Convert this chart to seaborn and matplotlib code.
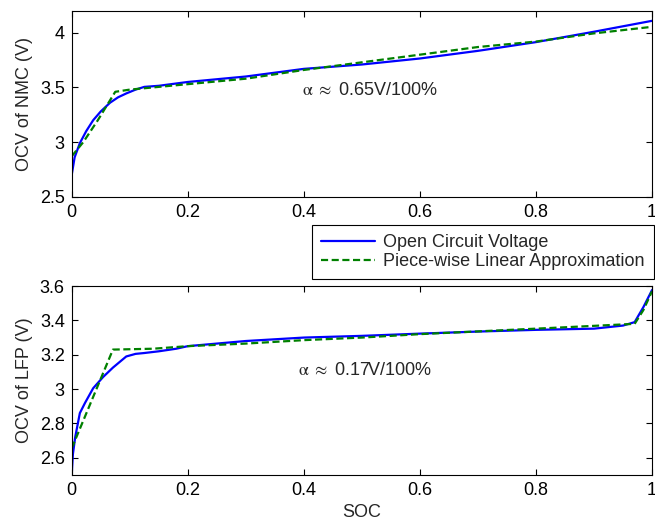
import matplotlib
matplotlib.use("Agg")
import matplotlib.pyplot as plt
import seaborn as sns
import pandas as pd

# NMC open circuit voltage and its piece-wise linear approximation
soc_nmc = [0, 0.005, 0.014, 0.025, 0.037, 0.05, 0.066, 0.08, 0.094, 0.11, 0.125, 0.15,
           0.2, 0.3, 0.4, 0.45, 0.5, 0.6, 0.7, 0.8, 0.9, 1.0]
ocv_nmc = [2.70, 2.86, 2.99, 3.10, 3.20, 3.28, 3.36, 3.41, 3.445, 3.48, 3.505, 3.515,
           3.55, 3.60, 3.67, 3.69, 3.71, 3.765, 3.835, 3.915, 4.01, 4.11]
soc_nmc_pwl = [0, 0.02, 0.045, 0.075, 0.1, 0.2, 0.3, 0.4, 0.5, 0.6, 0.7, 0.8, 0.9, 1.0]
ocv_nmc_pwl = [2.87, 3.0, 3.2, 3.46, 3.48, 3.53, 3.58, 3.66, 3.73, 3.80, 3.87, 3.92, 3.995, 4.055]

# LFP open circuit voltage and its piece-wise linear approximation
soc_lfp = [0, 0.002, 0.006, 0.014, 0.023, 0.037, 0.054, 0.071, 0.094, 0.11, 0.125, 0.15,
           0.18, 0.2, 0.3, 0.4, 0.5, 0.6, 0.7, 0.8, 0.9, 0.95, 0.97, 0.985, 1.0]
ocv_lfp = [2.5, 2.62, 2.72, 2.86, 2.92, 3.005, 3.07, 3.125, 3.19, 3.205, 3.21, 3.22,
           3.235, 3.25, 3.28, 3.30, 3.31, 3.323, 3.335, 3.345, 3.352, 3.37, 3.39, 3.477, 3.577]
soc_lfp_pwl = [0, 0.071, 0.14, 0.2, 0.3, 0.4, 0.5, 0.6, 0.75, 0.85, 0.97, 0.985, 1.0]
ocv_lfp_pwl = [2.655, 3.23, 3.235, 3.25, 3.265, 3.285, 3.30, 3.32, 3.344, 3.36, 3.38, 3.46, 3.57]

xticks = [0, 0.2, 0.4, 0.6, 0.8, 1]
yticks_nmc = [2.5, 3, 3.5, 4]
yticks_lfp = [2.6, 2.8, 3, 3.2, 3.4, 3.6]

sns.set_style("ticks")
plt.rcParams["font.family"] = ["Liberation Sans", "DejaVu Sans"]
plt.rcParams["mathtext.fontset"] = "stix"
plt.rcParams["font.size"] = 13

fig = plt.figure(figsize=(6.55, 5.23), dpi=100)
ax1 = fig.add_axes([0.1095, 0.624, 0.886, 0.355])
ax2 = fig.add_axes([0.1095, 0.092, 0.886, 0.361])

blue = "#0000FF"
green = "#008000"

df1 = pd.DataFrame({"soc": soc_nmc, "ocv": ocv_nmc})
df1p = pd.DataFrame({"soc": soc_nmc_pwl, "ocv": ocv_nmc_pwl})
df2 = pd.DataFrame({"soc": soc_lfp, "ocv": ocv_lfp})
df2p = pd.DataFrame({"soc": soc_lfp_pwl, "ocv": ocv_lfp_pwl})

dash = (0, (3.2, 1.6))
sns.lineplot(data=df1, x="soc", y="ocv", ax=ax1, color=blue, lw=1.6,
             label="Open Circuit Voltage", sort=False)
sns.lineplot(data=df1p, x="soc", y="ocv", ax=ax1, color=green, lw=1.6,
             linestyle=dash, label="Piece-wise Linear Approximation", sort=False)
sns.lineplot(data=df2, x="soc", y="ocv", ax=ax2, color=blue, lw=1.6, sort=False)
sns.lineplot(data=df2p, x="soc", y="ocv", ax=ax2, color=green, lw=1.6,
             linestyle=dash, sort=False)

ax1.set_xlim(0, 1)
ax1.set_ylim(2.5, 4.2)
ax2.set_xlim(0, 1)
ax2.set_ylim(2.5, 3.6)

for ax, yt in [(ax1, yticks_nmc), (ax2, yticks_lfp)]:
    ax.set_xticks(xticks)
    ax.set_xticklabels([f"{v:g}" for v in xticks])
    ax.set_yticks(yt)
    ax.set_yticklabels([f"{v:g}" for v in yt])
    ax.tick_params(direction="in", length=4, width=0.8, top=True, right=True,
                   labelsize=13, pad=5, colors="black")
    for s in ax.spines.values():
        s.set_color("black")
        s.set_linewidth(0.8)

ax1.set_xlabel("")
ax1.set_ylabel("OCV of NMC (V)", fontsize=13, labelpad=5)
ax2.set_xlabel("SOC", fontsize=13, labelpad=4)
ax2.set_ylabel("OCV of LFP (V)", fontsize=13, labelpad=5)

ax1.text(0.396, 3.475, r"$\mathrm{\alpha}\ \approx$ 0.65V/100%", fontsize=13, va="center", ha="left")
ax2.text(0.39, 3.11, r"$\mathrm{\alpha}\ \approx$ 0.17V/100%", fontsize=13, va="center", ha="left")

h, l = ax1.get_legend_handles_labels()
ax1.legend_.remove()
leg = fig.legend(h, l, loc="upper right", bbox_to_anchor=(0.9985, 0.569),
                 fontsize=13, frameon=True, fancybox=False, framealpha=1,
                 edgecolor="black", borderpad=0.5, labelspacing=0.1,
                 handlelength=3.0, handletextpad=0.45, borderaxespad=0)
leg.get_frame().set_linewidth(0.8)

fig.savefig("out.png", dpi=100)
